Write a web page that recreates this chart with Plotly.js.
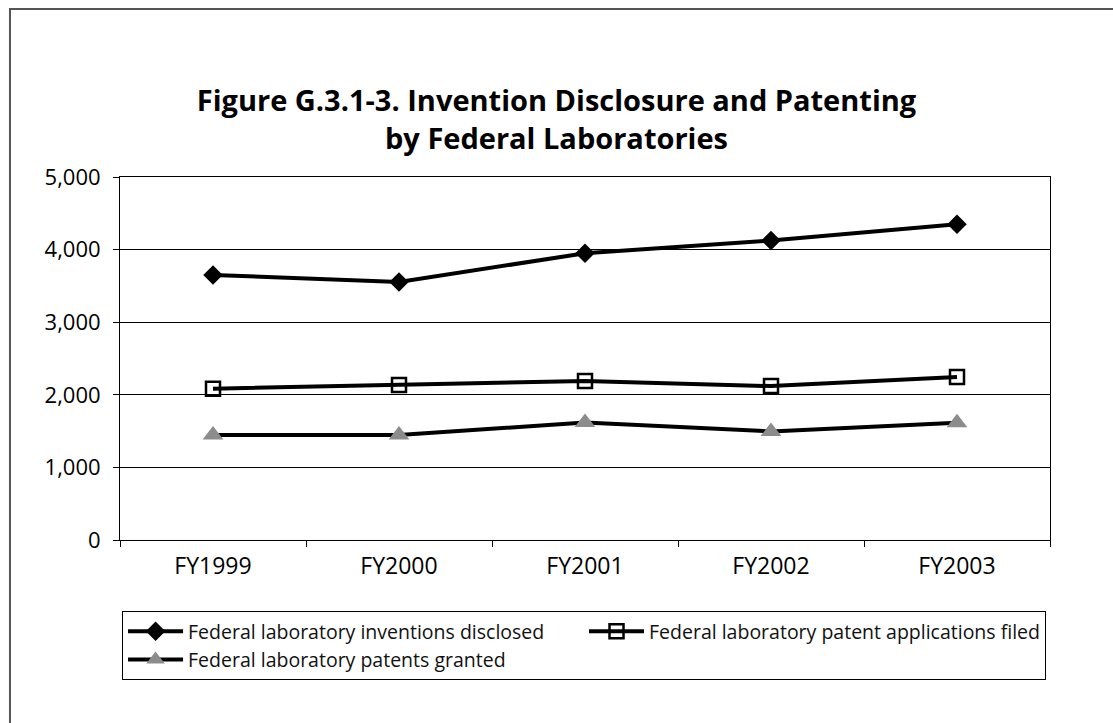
<!DOCTYPE html>
<html><head><meta charset="utf-8">
<script src="https://cdn.plot.ly/plotly-3.0.1.min.js"></script>
<style>html,body{margin:0;padding:0;background:#fff}#chart{width:1113px;height:723px}</style>
</head><body><div id="chart"></div>
<script>
const years = ['FY1999', 'FY2000', 'FY2001', 'FY2002', 'FY2003'];
const inventionsDisclosed = [3650, 3555, 3950, 4125, 4350];
const applicationsFiled = [2085, 2135, 2190, 2120, 2245];
const patentsGranted = [1445, 1445, 1620, 1495, 1615];
const seriesNames = [
  'Federal laboratory inventions disclosed',
  'Federal laboratory patent applications filed',
  'Federal laboratory patents granted'
];
const yTickVals = [0, 1000, 2000, 3000, 4000, 5000];
const yTickText = ['0', '1,000', '2,000', '3,000', '4,000', '5,000'];

const FONT = '"Open Sans", "Noto Sans", "DejaVu Sans", sans-serif';

const traces = [
  {
    x: years, y: inventionsDisclosed, name: seriesNames[0], type: 'scatter', mode: 'lines+markers',
    line: {color: '#000', width: 4},
    marker: {symbol: 'diamond', size: 15, color: '#000'}
  },
  {
    x: years, y: applicationsFiled, name: seriesNames[1], type: 'scatter', mode: 'lines+markers',
    line: {color: '#000', width: 4},
    marker: {symbol: 'square-open', size: 14, color: '#000', line: {color: '#000', width: 2.5}}
  },
  {
    x: years, y: patentsGranted, name: seriesNames[2], type: 'scatter', mode: 'lines+markers',
    line: {color: '#000', width: 4},
    marker: {symbol: 'triangle-up', size: 18, color: '#8c8c8c'}
  }
];

const layout = {
  width: 1113, height: 723,
  margin: {l: 120, r: 63, t: 177, b: 183},
  paper_bgcolor: '#fff', plot_bgcolor: '#fff',
  font: {family: FONT, color: '#000'},
  title: {
    text: '<b>Figure G.3.1-3. Invention Disclosure and Patenting<br>by Federal Laboratories</b>',
    font: {family: FONT, size: 29, color: '#000'},
    xref: 'container', x: 0.5, xanchor: 'center',
    yref: 'container', y: 1 - 111 / 723, yanchor: 'middle'
  },
  xaxis: {
    type: 'category', range: [-0.5, 4.5],
    tickson: 'boundaries', ticks: 'outside', ticklen: 6, tickcolor: '#000', tickwidth: 1,
    showline: true, mirror: true, linecolor: '#000', linewidth: 1,
    showgrid: false, tickfont: {family: FONT, size: 23, color: '#000'},
    ticklabelstandoff: 5, fixedrange: true
  },
  yaxis: {
    range: [0, 5000], tickvals: yTickVals, ticktext: yTickText,
    ticks: 'outside', ticklen: 6, tickcolor: '#000', tickwidth: 1,
    showline: true, mirror: true, linecolor: '#000', linewidth: 1,
    showgrid: true, gridcolor: '#000', gridwidth: 1, zeroline: false,
    tickfont: {family: FONT, size: 22, color: '#000'},
    ticklabelstandoff: 8, fixedrange: true
  },
  showlegend: true,
  legend: {
    orientation: 'h', x: 0.0022, xanchor: 'left', y: (540 - 611) / 363, yanchor: 'top',
    bordercolor: '#000', borderwidth: 1, bgcolor: '#fff',
    font: {family: FONT, size: 19.5, color: '#111'},
    itemwidth: 55,
    traceorder: 'normal'
  },
  shapes: [
    {type: 'rect', xref: 'paper', yref: 'paper', x0: -0.1183, x1: 1.3, y0: -0.7, y1: 1.4628,
     line: {color: '#555', width: 2}, fillcolor: 'rgba(0,0,0,0)', layer: 'below'}
  ]
};

Plotly.newPlot('chart', traces, layout, {displayModeBar: false, staticPlot: true});
</script>
</body></html>
